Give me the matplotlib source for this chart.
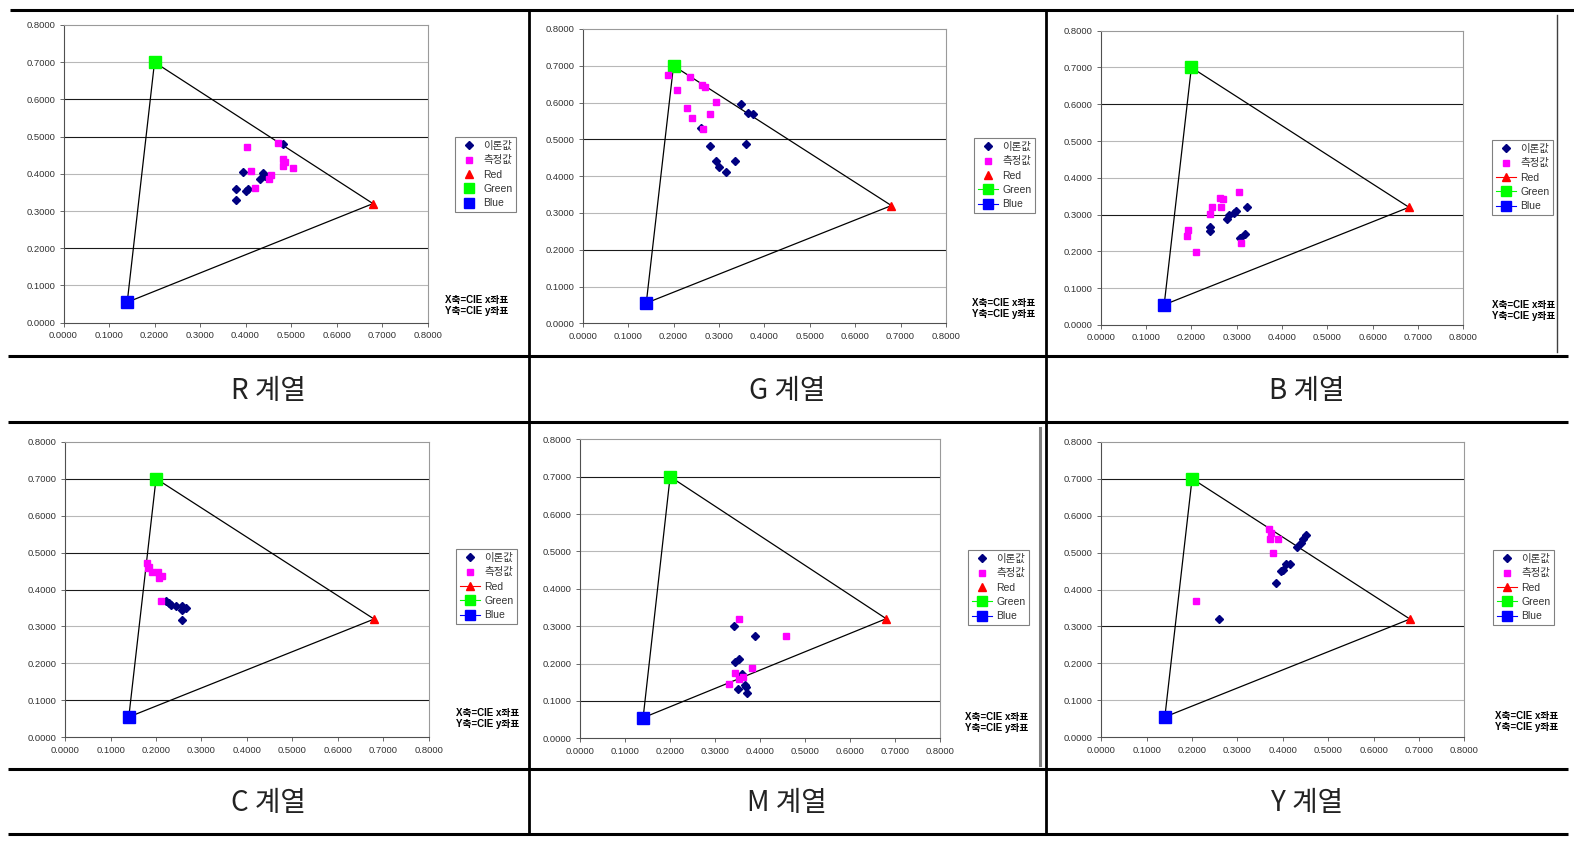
import matplotlib
matplotlib.use("Agg")
import matplotlib.pyplot as plt
from matplotlib.lines import Line2D
from matplotlib.font_manager import FontProperties
import numpy as np

# ---------- 데이터 (CIE x, y 좌표) ----------
PANEL_KEYS = ["R", "G", "B", "C", "M", "Y"]
PANEL_TITLES = ["R 계열", "G 계열", "B 계열", "C 계열", "M 계열", "Y 계열"]
SERIES_LABELS = ["이론값", "측정값", "Red", "Green", "Blue"]
AXIS_NOTE = "X축=CIE x좌표\nY축=CIE y좌표"
TICKS = [0.0, 0.1, 0.2, 0.3, 0.4, 0.5, 0.6, 0.7, 0.8]

PRIMARY_NAMES = ["Red", "Green", "Blue"]
PRIMARY_X = [0.68, 0.20, 0.14]
PRIMARY_Y = [0.32, 0.70, 0.055]

R_THEORY = [(0.482, 0.480), (0.394, 0.405), (0.380, 0.359), (0.378, 0.331), (0.400, 0.355),
            (0.406, 0.359), (0.438, 0.403), (0.432, 0.386), (0.442, 0.394)]
R_MEASURED = [(0.403, 0.473), (0.471, 0.484), (0.483, 0.439), (0.483, 0.421), (0.487, 0.433),
              (0.504, 0.417), (0.412, 0.409), (0.421, 0.361), (0.452, 0.386), (0.457, 0.397)]

G_THEORY = [(0.349, 0.596), (0.365, 0.571), (0.375, 0.568), (0.261, 0.532), (0.280, 0.483),
            (0.359, 0.487), (0.294, 0.441), (0.300, 0.424), (0.315, 0.410), (0.335, 0.441)]
G_MEASURED = [(0.188, 0.676), (0.207, 0.634), (0.237, 0.669), (0.263, 0.649), (0.270, 0.642),
              (0.294, 0.602), (0.229, 0.586), (0.241, 0.559), (0.280, 0.568), (0.265, 0.528)]

B_THEORY = [(0.322, 0.322), (0.298, 0.311), (0.294, 0.304), (0.283, 0.299), (0.278, 0.289),
            (0.242, 0.267), (0.240, 0.256), (0.319, 0.247), (0.307, 0.236)]
B_MEASURED = [(0.306, 0.361), (0.264, 0.345), (0.269, 0.342), (0.266, 0.322), (0.245, 0.320),
              (0.240, 0.303), (0.193, 0.258), (0.191, 0.242), (0.210, 0.198), (0.310, 0.223)]

C_THEORY = [(0.223, 0.369), (0.228, 0.363), (0.232, 0.358), (0.243, 0.354), (0.258, 0.355),
            (0.258, 0.345), (0.265, 0.351), (0.258, 0.317)]
C_MEASURED = [(0.179, 0.473), (0.182, 0.457), (0.192, 0.448), (0.205, 0.448), (0.206, 0.430),
              (0.213, 0.437), (0.210, 0.369), (0.184, 0.462)]

M_THEORY = [(0.342, 0.301), (0.389, 0.275), (0.354, 0.211), (0.345, 0.203), (0.360, 0.172),
            (0.367, 0.143), (0.368, 0.136), (0.351, 0.131), (0.371, 0.122)]
M_MEASURED = [(0.352, 0.318), (0.457, 0.274), (0.382, 0.187), (0.344, 0.176), (0.363, 0.165),
              (0.354, 0.158), (0.330, 0.146)]

Y_THEORY = [(0.450, 0.547), (0.445, 0.538), (0.439, 0.527), (0.432, 0.514), (0.416, 0.469),
            (0.406, 0.469), (0.400, 0.453), (0.396, 0.451), (0.386, 0.418), (0.259, 0.319)]
Y_MEASURED = [(0.370, 0.565), (0.373, 0.552), (0.372, 0.537), (0.389, 0.536), (0.378, 0.500),
              (0.209, 0.369)]

THEORY = {"R": R_THEORY, "G": G_THEORY, "B": B_THEORY, "C": C_THEORY, "M": M_THEORY, "Y": Y_THEORY}
MEASURED = {"R": R_MEASURED, "G": G_MEASURED, "B": B_MEASURED,
            "C": C_MEASURED, "M": M_MEASURED, "Y": Y_MEASURED}

# ---------- 레이아웃 (픽셀 단위) ----------
W, H = 1574, 849
AX_BOX = {  # left, top, right, bottom
    "R": (63.5, 25, 427.6, 322.7),
    "G": (582.7, 29, 945.9, 323.3),
    "B": (1100.7, 30.7, 1463.4, 325),
    "C": (65.2, 441.7, 428.6, 737.3),
    "M": (580.1, 439.3, 940.2, 738.3),
    "Y": (1101.3, 441.7, 1464.4, 737.3),
}
LEGEND_TOPLEFT = {
    "R": (455, 137), "G": (974, 138), "B": (1492, 140),
    "C": (456, 549), "M": (968, 550), "Y": (1493, 550),
}
NOTE_TOPLEFT = {
    "R": (445, 295), "G": (972, 298), "B": (1492, 300),
    "C": (456, 708), "M": (965, 712), "Y": (1495, 711),
}
# 이미지에서 진하게 보이는 눈금선
DARK_GRID = {
    "R": (0.2, 0.5, 0.6), "G": (0.2, 0.5), "B": (0.3, 0.6),
    "C": (0.1, 0.4, 0.5, 0.7), "M": (0.1, 0.7), "Y": (0.3, 0.7),
}
# 범례에서 선이 함께 표시되는 항목
LEGEND_WITH_LINE = {
    "R": (), "G": ("Green", "Blue"), "B": ("Red", "Green", "Blue"),
    "C": ("Red", "Green", "Blue"), "M": ("Green", "Blue"), "Y": ("Red", "Green", "Blue"),
}
TITLE_POS = [(268, 391), (787, 391), (1307, 391), (268, 803), (787, 803), (1307, 803)]

COLOR_THEORY = "#000080"
COLOR_MEAS = "#ff00ff"
PRIMARY_COLORS = {"Red": "#ff0000", "Green": "#00ff00", "Blue": "#0000ff"}
PRIMARY_MARKERS = {"Red": ("^", 6.0), "Green": ("s", 8.5), "Blue": ("s", 8.5)}

TICK_FONT = ["Liberation Sans Narrow", "Liberation Sans", "DejaVu Sans"]
TEXT_FONT = ["Liberation Sans", "Noto Sans CJK KR"]

plt.rcParams["font.family"] = TEXT_FONT


def frac(box):
    l, t, r, b = box
    return [l / W, 1 - b / H, (r - l) / W, (b - t) / H]


def draw_panel(fig, key):
    ax = fig.add_axes(frac(AX_BOX[key]))
    ax.set_xlim(0, 0.8)
    ax.set_ylim(0, 0.8)

    for t in TICKS[1:-1]:
        dark = any(abs(t - d) < 1e-6 for d in DARK_GRID[key])
        ax.axhline(t, color="#1a1a1a" if dark else "#b8b8b8", lw=0.8, zorder=0)

    # 삼각형 (Green -> Red -> Blue -> Green)
    order = [1, 0, 2, 1]
    ax.plot([PRIMARY_X[i] for i in order], [PRIMARY_Y[i] for i in order],
            color="black", lw=0.9, zorder=2)

    for i, name in enumerate(PRIMARY_NAMES):
        mk, ms = PRIMARY_MARKERS[name]
        ax.plot(PRIMARY_X[i], PRIMARY_Y[i], marker=mk, ms=ms, color=PRIMARY_COLORS[name],
                ls="none", zorder=3)

    th = np.array(THEORY[key])
    me = np.array(MEASURED[key])
    ax.plot(th[:, 0], th[:, 1], "D", ms=3.6, color=COLOR_THEORY, zorder=4)
    ax.plot(me[:, 0], me[:, 1], "s", ms=4.8, color=COLOR_MEAS, zorder=4)

    ax.set_xticks(TICKS)
    ax.set_yticks(TICKS)
    ax.set_xticklabels([f"{t:.4f}" for t in TICKS])
    ax.set_yticklabels([f"{t:.4f}" for t in TICKS])
    ax.tick_params(direction="out", length=3, width=0.6, color="#505050",
                   labelsize=6.8, labelcolor="#333333", pad=3, labelfontfamily=TICK_FONT)
    for side in ("left", "bottom"):
        ax.spines[side].set_color("#505050")
        ax.spines[side].set_linewidth(0.8)
    for side in ("top", "right"):
        ax.spines[side].set_color("#9a9a9a")
        ax.spines[side].set_linewidth(0.8)

    # 범례
    handles = [
        Line2D([], [], marker="D", ms=3.6, color=COLOR_THEORY, ls="none"),
        Line2D([], [], marker="s", ms=4.8, color=COLOR_MEAS, ls="none"),
    ]
    for name in PRIMARY_NAMES:
        mk, ms = PRIMARY_MARKERS[name]
        ls = "-" if name in LEGEND_WITH_LINE[key] else "none"
        handles.append(Line2D([], [], marker=mk, ms=ms * 0.85, color=PRIMARY_COLORS[name],
                              ls=ls, lw=0.8))
    lx, ly = LEGEND_TOPLEFT[key]
    leg = ax.legend(handles, SERIES_LABELS, loc="upper left",
                    bbox_to_anchor=(lx / W, 1 - ly / H), bbox_transform=fig.transFigure,
                    prop=FontProperties(family=TEXT_FONT, size=7.5),
                    frameon=True, fancybox=False, framealpha=1.0, edgecolor="#808080",
                    borderpad=0.35, labelspacing=0.42, handlelength=2.0,
                    handletextpad=0.35, borderaxespad=0.0)
    leg.get_frame().set_linewidth(0.8)
    for txt in leg.get_texts():
        txt.set_color("#333333")

    nx, ny = NOTE_TOPLEFT[key]
    fig.text(nx / W, 1 - ny / H, AXIS_NOTE, ha="left", va="top", fontsize=7,
             fontweight="bold", family=TEXT_FONT, linespacing=1.15)
    return ax


def main():
    fig = plt.figure(figsize=(W / 100, H / 100), dpi=100)

    # 표 테두리와 제목
    bg = fig.add_axes([0, 0, 1, 1])
    bg.set_xlim(0, W)
    bg.set_ylim(H, 0)
    bg.axis("off")
    for x0, x1, y in [(10, W, 10), (8, 1568, 356), (8, 1568, 422), (8, 1568, 769), (8, 1568, 834)]:
        bg.plot([x0, x1], [y, y], color="black", lw=2.2, solid_capstyle="butt")
    for x in (529, 1046):
        bg.plot([x, x], [10, 834], color="black", lw=2.0, solid_capstyle="butt")
    bg.plot([1557, 1557], [15, 352], color="#404040", lw=1.0)
    bg.plot([1040, 1040], [428, 765], color="#808080", lw=2.2)

    for title, (cx, cy) in zip(PANEL_TITLES, TITLE_POS):
        bg.text(cx, cy, title, ha="center", va="center", fontsize=20,
                family=["Noto Sans CJK KR"], color="#222222")

    for key in PANEL_KEYS:
        draw_panel(fig, key)

    fig.savefig("out.png", dpi=100, facecolor="white")
    plt.close(fig)


if __name__ == "__main__":
    main()
